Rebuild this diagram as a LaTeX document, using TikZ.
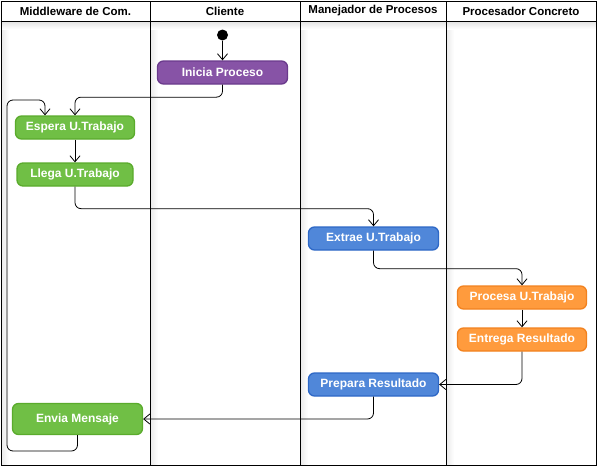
\documentclass[tikz,border=0pt]{standalone}
\usepackage{fontspec}
\setmainfont{Liberation Sans}
\usetikzlibrary{arrows.meta}
\definecolor{grnF}{HTML}{70BF45}
\definecolor{grnD}{HTML}{5AAB2C}
\definecolor{bluF}{HTML}{5087D9}
\definecolor{bluD}{HTML}{2E68C6}
\definecolor{orgF}{HTML}{FF9B3D}
\definecolor{orgD}{HTML}{F2821F}
\definecolor{purF}{HTML}{8753A6}
\definecolor{purD}{HTML}{6A3A8C}
\tikzset{
  act/.style={rounded corners=6pt, line width=1.3pt, text=white,
    font=\bfseries\fontsize{12}{14}\selectfont, inner sep=0pt, minimum height=23pt},
  grn/.style={act, fill=grnF, draw=grnD},
  blu/.style={act, fill=bluF, draw=bluD},
  org/.style={act, fill=orgF, draw=orgD},
  pur/.style={act, fill=purF, draw=purD},
  flow/.style={draw=black, line width=0.8pt, rounded corners=6pt,
    -{Straight Barb[length=6pt,width=10pt]}},
  hdr/.style={font=\bfseries\fontsize{11.5}{13}\selectfont, text=black},
  frame/.style={draw=black, line width=1pt},
  shade/.style={left color=black!8, right color=white, draw=none},
}
\begin{document}
\begin{tikzpicture}[x=1pt,y=-1pt]
\useasboundingbox (0,0) rectangle (597,466);
\fill[white] (0,0) rectangle (597,466);
% lane shadows
\foreach \x in {1,150,300,446} {
  \shade[shade] (\x+0.5,22) rectangle (\x+8,465);
}
\shade[top color=black!10, bottom color=white, draw=none] (1,22) rectangle (596,29);
% frame
\draw[frame] (1,1) rectangle (596,465);
\draw[frame] (1,21) -- (596,21);
\foreach \x in {150,300,446} { \draw[frame] (\x,1) -- (\x,465); }
% headers
\node[hdr] (h1) at (75.5,11) {Middleware de Com.};
\node[hdr] (h2) at (225,11) {Cliente};
\node[hdr] (h3) at (373,11) {Manejador de Procesos};
\node[hdr] (h4) at (521,11) {Procesador Concreto};
% nodes
\node[circle, fill=black, minimum size=11pt, inner sep=0pt] (st) at (222.5,35) {};
\node[pur, minimum width=130pt] (ip) at (222.5,72.5) {Inicia Proceso};
\node[grn, minimum width=119pt] (es) at (75,127.5) {Espera U.Trabajo};
\node[grn, minimum width=116pt] (ll) at (75,174.5) {Llega U.Trabajo};
\node[blu, minimum width=130pt] (ex) at (373.5,238.5) {Extrae U.Trabajo};
\node[org, minimum width=129pt] (pr) at (522,297.5) {Procesa U.Trabajo};
\node[org, minimum width=129pt] (en) at (522,339.5) {Entrega Resultado};
\node[blu, minimum width=130pt] (pp) at (373.5,384.5) {Prepara Resultado};
\node[grn, minimum width=130pt, minimum height=31pt] (em) at (77.5,419) {Envia Mensaje};
\coordinate (lp1) at (7,451);
\coordinate (lp2) at (7,100);
% connectors
\draw[flow] (st) -- (ip);
\draw[flow] (ip.south) -- ++(0,12.5) -| (es.north);
\draw[flow] (em.south) |- (lp1) -- (lp2) -| ([xshift=-30pt]es.north);
\draw[flow] (es) -- (ll);
\draw[flow] (ll.south) -- ++(0,22) -| (ex.north);
\draw[flow] (ex.south) -- ++(0,18) -| (pr.north);
\draw[flow] (pr) -- (en);
\draw[flow] (en.south) |- (pp.east);
\draw[flow] (pp.south) |- (em.east);
\end{tikzpicture}
\end{document}
